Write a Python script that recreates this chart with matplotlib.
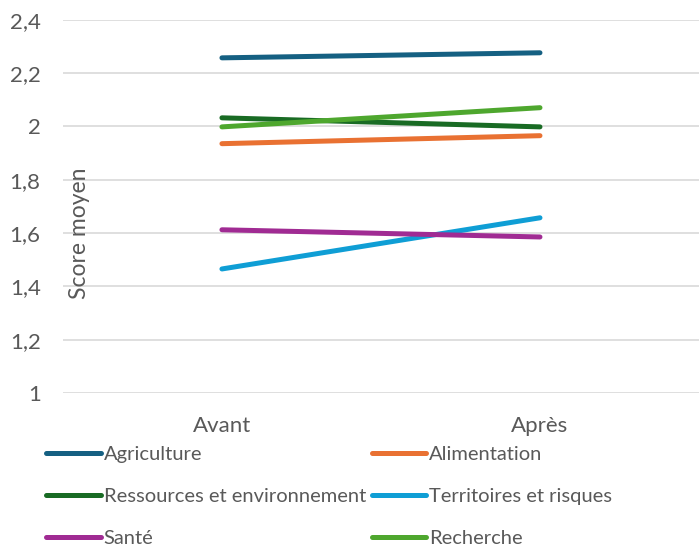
import matplotlib.pyplot as plt

# Data
periods = ['Avant', 'Après']
agriculture = [2.257, 2.276]
alimentation = [1.935, 1.965]
ressources = [2.032, 1.998]
territoires = [1.465, 1.657]
sante = [1.612, 1.585]
recherche = [1.998, 2.07]

series = [
    ('Agriculture', agriculture, '#156082'),
    ('Alimentation', alimentation, '#E97132'),
    ('Ressources et environnement', ressources, '#196B24'),
    ('Territoires et risques', territoires, '#0F9ED5'),
    ('Santé', sante, '#A02B93'),
    ('Recherche', recherche, '#4EA72E'),
]

plt.rcParams['font.family'] = ['Lato', 'DejaVu Sans']

fig = plt.figure(figsize=(6.99, 5.48), dpi=100)
ax = fig.add_axes([0.090, 0.283, 0.910, 0.681])

x = list(range(len(periods)))
lines = []
for name, vals, col in series:
    ln, = ax.plot(x, vals, color=col, linewidth=3.6, solid_capstyle='round', label=name)
    lines.append(ln)

ax.set_xlim(-0.5, 1.5)
ax.set_ylim(1, 2.4)
ax.set_yticks([1, 1.2, 1.4, 1.6, 1.8, 2, 2.2, 2.4])
ax.set_yticklabels(['1', '1,2', '1,4', '1,6', '1,8', '2', '2,2', '2,4'])
ax.set_xticks(x)
ax.set_xticklabels(periods)
ax.tick_params(axis='both', length=0, labelsize=16, labelcolor='#595959')
ax.tick_params(axis='y', pad=16)
ax.tick_params(axis='x', pad=16.5)
ax.grid(axis='y', color='#D9D9D9', linewidth=1.2)
ax.set_axisbelow(True)
for s in ax.spines.values():
    s.set_visible(False)

ax.set_ylabel('Score moyen', fontsize=16.5, color='#595959')
ax.yaxis.set_label_coords(0.043, 0.428)

# row-major legend order (matplotlib fills columns first)
order = [0, 2, 4, 1, 3, 5]
fig.legend([lines[i] for i in order], [series[i][0] for i in order],
           loc='upper left', bbox_to_anchor=(0.066, 0.186), ncol=2, frameon=False,
           fontsize=14.5, labelcolor='#595959', handlelength=2.7, handletextpad=0.15,
           labelspacing=1.24, columnspacing=0.3, borderpad=0, borderaxespad=0)

plt.savefig('out.png', dpi=100)
